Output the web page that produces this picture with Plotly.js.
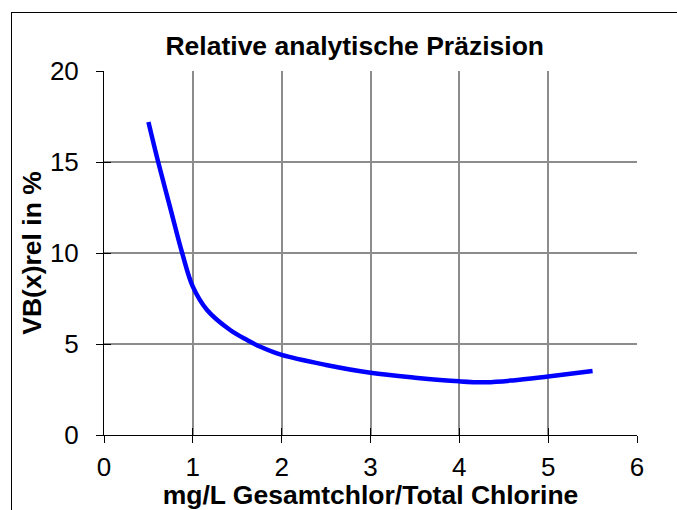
<!DOCTYPE html>
<html>
<head>
<meta charset="utf-8">
<script src="https://cdn.plot.ly/plotly-3.0.1.min.js"></script>
<style>
html,body{margin:0;padding:0;overflow:hidden;background:#fff;}
#wrap{position:relative;width:677px;height:510px;overflow:hidden;}
#chart{position:absolute;left:0;top:0;width:677px;height:510px;}
#frame{position:absolute;left:11px;top:12px;width:700px;height:600px;border:1px solid #000;pointer-events:none;}
</style>
</head>
<body>
<div id="wrap"><div id="chart"></div><div id="frame"></div></div>
<script>
const concentration = [0.5, 0.61, 0.75, 0.88, 1.0, 1.16, 1.42, 1.61, 1.76, 2.0, 2.5, 3.0, 3.5, 4.0, 4.3, 4.6, 5.0, 5.5];
const relPrecision = [17.2, 15.0, 12.4, 10.0, 8.15, 6.87, 5.77, 5.22, 4.85, 4.4, 3.85, 3.42, 3.15, 2.95, 2.9, 3.0, 3.22, 3.52];
const xTicks = [0, 1, 2, 3, 4, 5, 6];
const yTicks = [0, 5, 10, 15, 20];

const font = 'Liberation Sans, Arial, sans-serif';
const trace = {
  x: concentration, y: relPrecision, type: 'scatter', mode: 'lines',
  line: {color: '#0000FF', width: 4.5, shape: 'spline', smoothing: 1},
  hoverinfo: 'skip'
};
const dummy = {x: [0], y: [0], xaxis: 'x2', yaxis: 'y2', mode: 'markers', marker: {opacity: 0}, hoverinfo: 'skip', showlegend: false};
const layout = {
  width: 677, height: 510,
  margin: {l: 103.7, r: 40, t: 71, b: 75},
  paper_bgcolor: '#fff', plot_bgcolor: '#fff',
  showlegend: false,
  font: {family: font, color: '#000', size: 26},
  title: {text: '<b>Relative analytische Präzision</b>', font: {family: font, size: 26.5, color: '#000'},
          xref: 'container', yref: 'container', x: 0.524, xanchor: 'center', y: 0.91, yanchor: 'middle'},
  xaxis: {
    range: [0, 6], tickvals: xTicks, ticktext: xTicks.map(String),
    showgrid: true, gridcolor: '#8c8c8c', gridwidth: 2,
    zeroline: false, showline: true, linecolor: '#000', linewidth: 1,
    ticks: 'outside', ticklen: 7, tickwidth: 1, tickcolor: '#000', ticklabelstandoff: 2,
    tickfont: {family: font, size: 26, color: '#000'},
    title: {text: '<b>mg/L Gesamtchlor/Total Chlorine</b>', font: {family: font, size: 26.5, color: '#000'}, standoff: 0}
  },
  yaxis: {
    range: [0, 20], tickvals: yTicks, ticktext: yTicks.map(String),
    showgrid: true, gridcolor: '#8c8c8c', gridwidth: 2,
    zeroline: false, showline: true, linecolor: '#000', linewidth: 1,
    ticks: 'outside', ticklen: 7, tickwidth: 1, tickcolor: '#000', ticklabelstandoff: 12,
    tickfont: {family: font, size: 26, color: '#000'},
    title: {text: '<b>VB(x)rel in %</b>', font: {family: font, size: 26.5, color: '#000'}, standoff: 0}
  },
  xaxis2: {overlaying: 'x', range: [0, 6], tickvals: xTicks, showticklabels: false, showgrid: false, zeroline: false,
           ticks: 'inside', ticklen: 7, tickwidth: 1, tickcolor: '#000', side: 'bottom'},
  yaxis2: {overlaying: 'y', range: [0, 20], tickvals: yTicks, showticklabels: false, showgrid: false, zeroline: false,
           ticks: 'inside', ticklen: 7, tickwidth: 1, tickcolor: '#000', side: 'left'}
};
Plotly.newPlot('chart', [trace, dummy], layout, {displayModeBar: false, staticPlot: true});
</script>
</body>
</html>
